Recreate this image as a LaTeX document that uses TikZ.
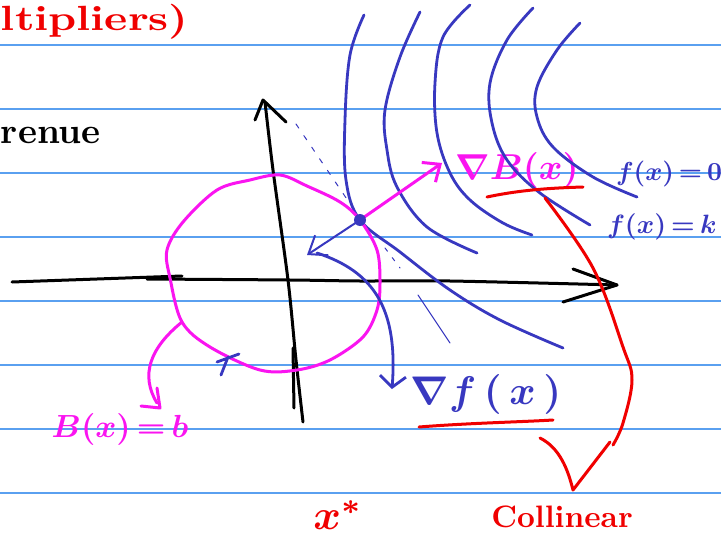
\documentclass[tikz,border=0pt]{standalone}
\usetikzlibrary{arrows.meta}
\definecolor{ruleblue}{HTML}{5AA0F0}
\definecolor{ink}{HTML}{3838C0}
\definecolor{pinkink}{HTML}{FA14F0}
\definecolor{redink}{HTML}{F00000}
\newcommand{\hw}[2]{\scalebox{#1}{#2}}
\begin{document}
\begin{tikzpicture}[x=1pt,y=-1pt,line cap=round,line join=round,
  ruleline/.style={ruleblue,line width=1.3pt},
  blackpen/.style={black,line width=3pt},
  bluepen/.style={ink,line width=2.8pt},
  pinkpen/.style={pinkink,line width=3pt},
  redpen/.style={redink,line width=3pt},
  thinblue/.style={ink,line width=1pt},
  lbl/.style={inner sep=0pt,outer sep=0pt,font=\bfseries\boldmath}]
\useasboundingbox (0,0) rectangle (721,541);
\fill[white] (0,0) rectangle (721,541);
\clip (0,0) rectangle (721,541);
% ruled paper
\foreach \yy in {45,109,173,237,301,365,429,493}
  \draw[ruleline] (0,\yy) -- (721,\yy);

% texts
\node[lbl,anchor=base west,text=redink] (mult) at (1,30) {\scalebox{4.4}[3.5]{ltipliers)}};
\node[lbl,anchor=base west] (renue) at (1,143) {\hw{3.6}{renue}};
\node[lbl,text=pinkink] (gradB) at (517,170) {\hw{3.6}{$\nabla B(x)$}};
\node[lbl,anchor=west,text=ink] (fzero) at (616,174) {\hw{2.6}{$f(x)\,{=}\,0$}};
\node[lbl,anchor=west,text=ink] (fk) at (607,227) {\hw{2.65}{$f(x)\,{=}\,k$}};
\node[lbl,text=ink] (gradf) at (486,394) {\hw{4.0}{$\nabla f\,(\,x\,)$}};
\node[lbl,text=pinkink] (Bb) at (120,429) {\hw{3.2}{$B(x)\,{=}\,b$}};
\node[lbl,text=redink] (xstar) at (338,515) {\hw{4.2}{$x^*$}};
\node[lbl,anchor=base,text=redink] (coll) at (562,527) {\hw{3.1}{Collinear}};

% key points
\coordinate (dot) at (360,220);
\coordinate (gBtip) at (442,163);
\coordinate (gftip) at (307,255);

% axes
\draw[blackpen] (12,282) -- (182,276);
\draw[blackpen] plot[smooth,tension=0.5] coordinates {(147,279) (290,280) (360,281) (450,281) (617,285)};
\draw[blackpen] (573,269) -- (617,285) -- (563,302);
\draw[blackpen] plot[smooth,tension=0.5] coordinates {(303,422) (296,360) (288,280) (273,170) (265,102)};
\draw[blackpen] (255,120) -- (263,100) -- (286,122);
\draw[blackpen] (293,348) -- (294,408);

% level sets of f
\draw[bluepen] plot[smooth,tension=0.6] coordinates {(364,15) (350,55) (345,120) (346,180) (360,220) (400,252) (450,290) (500,320) (563,348)};
\draw[bluepen] plot[smooth,tension=0.6] coordinates {(420,12) (400,57) (385,110) (387,150) (397,187) (427,227) (477,253)};
\draw[bluepen] plot[smooth,tension=0.6] coordinates {(470,5) (443,37) (435,83) (437,133) (450,173) (470,200) (503,223) (532,235)};
\draw[bluepen] plot[smooth,tension=0.6] coordinates {(533,8) (507,40) (490,83) (492,123) (507,160) (540,193) (590,225)};
\draw[bluepen] plot[smooth,tension=0.6] coordinates {(580,23) (557,50) (537,87) (537,117) (553,147) (593,177) (637,197)};

% tangent hints
\draw[thinblue,dash pattern=on 5pt off 9pt] (296,124) -- (357,214);
\draw[thinblue,dash pattern=on 4pt off 8pt] (385,248) -- (400,268);
\draw[thinblue] (418,295) -- (450,343);

% constraint boundary B(x)=b
\draw[pinkpen] plot[smooth cycle,tension=0.55] coordinates {(280,175) (307,186) (340,202) (360,220) (377,250) (380,283) (377,310) (363,337) (330,360) (297,370) (260,370) (210,347) (182,322) (170,278) (167,250) (183,222) (217,190) (250,180)};

% gradient of B
\draw[pinkpen,-{Straight Barb[length=14pt,width=24pt]}] (dot) -- (gBtip);

% gradient of f
\draw[ink,line width=2pt,-{Straight Barb[length=16pt,width=24pt]}] (dot) -- (gftip);
\draw[bluepen,-{Straight Barb[length=11pt,width=26pt]}] (317,253) .. controls (375,272) and (398,310) .. (392,389);
\draw[bluepen] (217,362) -- (239,354) (228,357) -- (221,375);

\fill[ink] (dot) circle (6);

% pointer to B(x)=b
\draw[pinkpen] (182,322) .. controls (150,348) and (140,375) .. (157,403);
\draw[pinkpen] (157,388) -- (160,408) -- (141,406);

% red annotations
\draw[redpen] (487,197) .. controls (520,190) and (550,188) .. (583,187);
\draw[redpen] (419,427) .. controls (470,423) and (520,422) .. (553,420);
\draw[redpen] plot[smooth,tension=0.6] coordinates {(545,198) (593,268) (623,347) (632,380) (623,423) (613,445)};
\draw[redpen] (540,438) .. controls (560,448) and (568,470) .. (573,490) -- (610,442);
\end{tikzpicture}
\end{document}
